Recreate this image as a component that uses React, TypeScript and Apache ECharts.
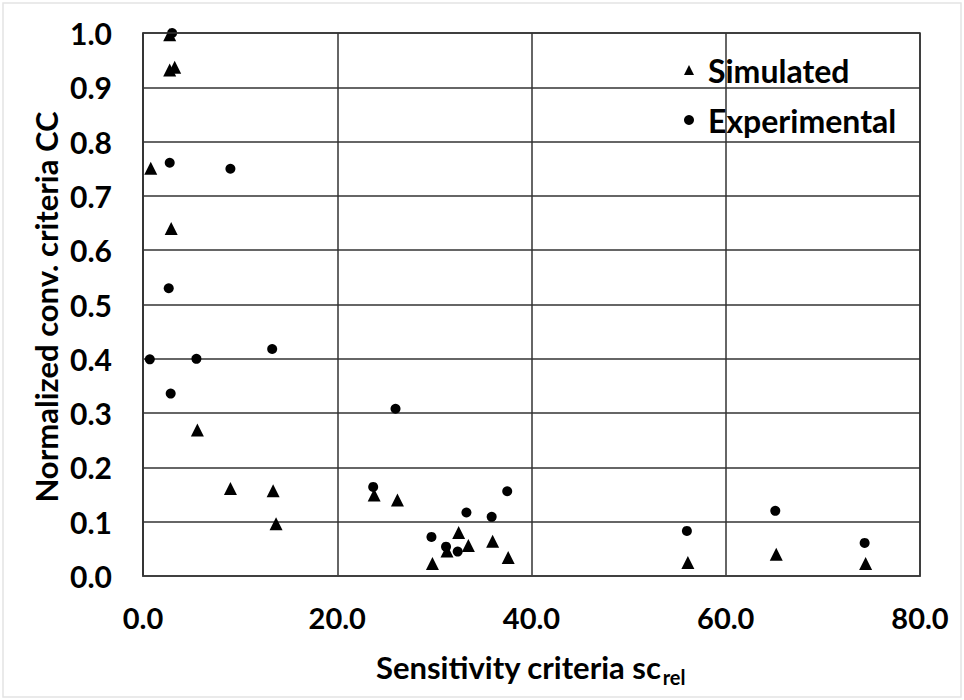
import React, { useEffect, useRef } from "react";
import * as echarts from "echarts";

const xTicks = [0, 20, 40, 60, 80];
const yTicks = [0, 0.1, 0.2, 0.3, 0.4, 0.5, 0.6, 0.7, 0.8, 0.9, 1.0];

const simulatedX = [2.75, 2.75, 3.26, 0.8, 2.9, 5.6, 9.0, 13.4, 13.7, 23.8, 26.2, 32.5, 36.0, 31.3, 33.5, 29.8, 37.6, 56.1, 65.2, 74.4];
const simulatedY = [0.997, 0.932, 0.937, 0.751, 0.640, 0.269, 0.161, 0.157, 0.096, 0.149, 0.140, 0.080, 0.064, 0.046, 0.056, 0.023, 0.034, 0.025, 0.040, 0.023];

const experimentalX = [3.0, 2.75, 9.0, 2.65, 0.7, 5.5, 13.3, 2.85, 26.0, 23.7, 37.5, 33.3, 35.9, 29.7, 31.2, 32.4, 56.0, 65.1, 74.3];
const experimentalY = [1.0, 0.761, 0.750, 0.530, 0.399, 0.400, 0.418, 0.336, 0.308, 0.164, 0.156, 0.117, 0.109, 0.072, 0.054, 0.045, 0.083, 0.120, 0.061];

const FONT = "Lato, 'Noto Sans', sans-serif";

export default function App() {
  const ref = useRef<HTMLDivElement>(null);
  useEffect(() => {
    if (!ref.current) return;
    const chart = echarts.init(ref.current, null, { renderer: "svg" });
    const sim = simulatedX.map((x, i) => [x, simulatedY[i]]);
    const exp = experimentalX.map((x, i) => [x, experimentalY[i]]);
    chart.setOption({
      animation: false,
      backgroundColor: "#ffffff",
      grid: { left: 143, right: 44, top: 33, bottom: 124, containLabel: false },
      xAxis: {
        type: "value",
        min: xTicks[0],
        max: xTicks[xTicks.length - 1],
        interval: 20,
        axisLine: { show: true, lineStyle: { color: "#6a6a6a", width: 2 } },
        axisTick: { show: false },
        splitLine: { show: true, lineStyle: { color: "#333333", width: 1.5 } },
        axisLabel: {
          formatter: (v: number) => v.toFixed(1),
          fontFamily: FONT,
          fontWeight: "bold",
          fontSize: 29,
          color: "#000",
          margin: 27,
        },
      },
      yAxis: {
        type: "value",
        min: yTicks[0],
        max: yTicks[yTicks.length - 1],
        interval: 0.1,
        axisLine: { show: true, lineStyle: { color: "#333333", width: 1.5 } },
        axisTick: { show: false },
        splitLine: { show: true, lineStyle: { color: "#333333", width: 1.5 } },
        axisLabel: {
          formatter: (v: number) => v.toFixed(1),
          fontFamily: FONT,
          fontWeight: "bold",
          fontSize: 30,
          color: "#000",
          margin: 31,
        },
      },
      legend: {
        orient: "vertical",
        left: 679,
        top: 49,
        itemWidth: 10,
        itemHeight: 10,
        itemGap: 18,
        data: [
          { name: "Simulated", icon: "triangle" },
          { name: "Experimental", icon: "circle" },
        ],
        textStyle: {
          fontFamily: FONT,
          fontWeight: "bold",
          fontSize: 32,
          lineHeight: 32,
          color: "#000",
          padding: [0, 0, 0, 9],
        },
      },
      graphic: [
        {
          type: "rect",
          shape: { x: 3, y: 3, width: 958, height: 694 },
          style: { fill: "none", stroke: "#e4e4e4", lineWidth: 1.5 },
          silent: true,
        },
        {
          type: "rect",
          shape: { x: 143, y: 33, width: 777, height: 543 },
          style: { fill: "none", stroke: "#333333", lineWidth: 1.5 },
          silent: true,
          z: 10,
        },
        {
          type: "text",
          x: 46,
          y: 307,
          rotation: Math.PI / 2,
          style: {
            text: "Normalized conv. criteria CC",
            fontFamily: FONT,
            fontWeight: "bold",
            fontSize: 31,
            fill: "#000",
            align: "center",
            verticalAlign: "middle",
          },
        },
        {
          type: "text",
          x: 376,
          y: 667,
          style: {
            text: "{a|Sensitivity criteria sc}{b|rel}",
            align: "left",
            verticalAlign: "middle",
            rich: {
              a: { fontFamily: FONT, fontWeight: "bold", fontSize: 31, lineHeight: 31, fill: "#000", color: "#000" },
              b: { fontFamily: FONT, fontWeight: "bold", fontSize: 20, lineHeight: 20, padding: [20, 0, 0, 1], fill: "#000", color: "#000" },
            },
          },
        },
      ],
      series: [
        {
          name: "Simulated",
          type: "scatter",
          symbol: "triangle",
          symbolSize: 13,
          itemStyle: { color: "#000", opacity: 1 },
          data: sim,
        },
        {
          name: "Experimental",
          type: "scatter",
          symbol: "circle",
          symbolSize: 10,
          itemStyle: { color: "#000", opacity: 1 },
          data: exp,
        },
      ],
    });
    return () => chart.dispose();
  }, []);
  return (
    <div
      ref={ref}
      style={{ position: "fixed", left: 0, top: 0, width: 964, height: 700 }}
    />
  );
}
